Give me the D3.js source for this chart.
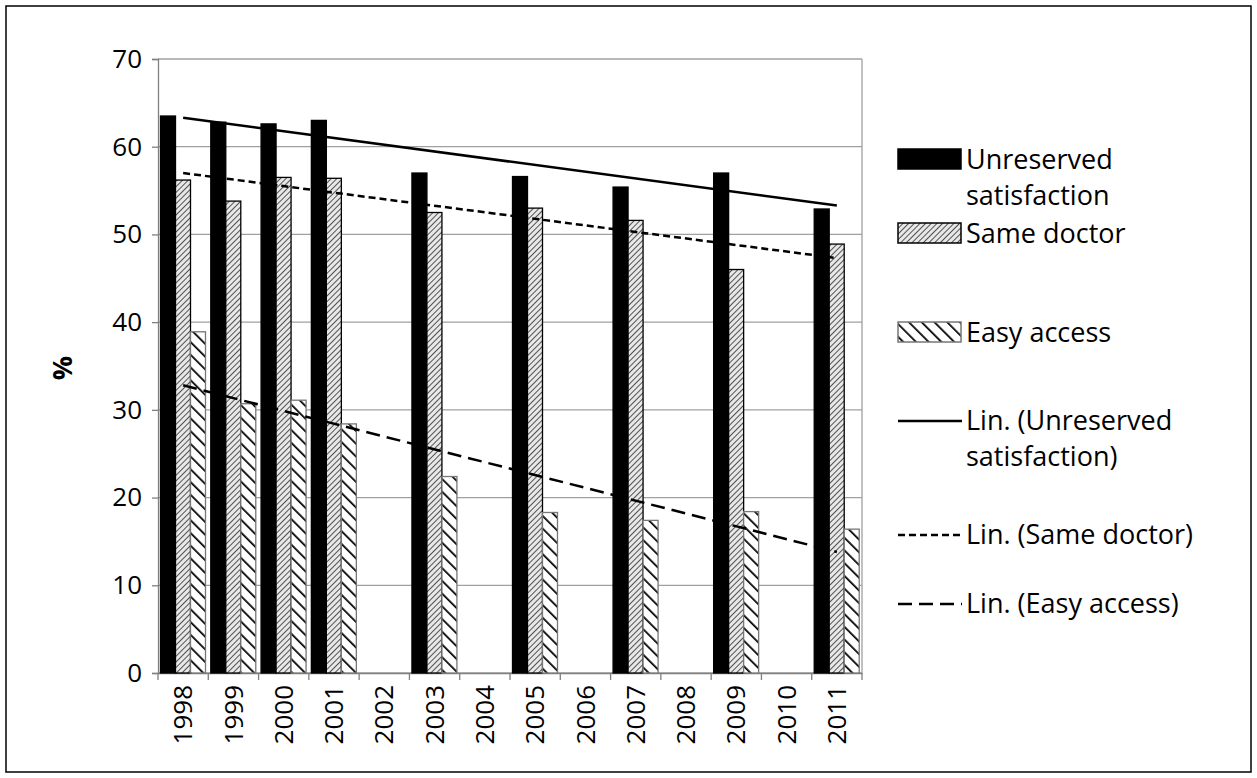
<!DOCTYPE html>
<html><head><meta charset="utf-8">
<script src="https://cdn.jsdelivr.net/npm/d3@7"></script>
<style>body{margin:0;background:#fff}text{font-family:"Open Sans",sans-serif}</style>
</head><body><svg id="c" width="1257" height="778"></svg>
<script>
// chart values
const years = ["1998","1999","2000","2001","2002","2003","2004","2005","2006","2007","2008","2009","2010","2011"];
const unreserved = [63.5, 62.8, 62.6, 63.0, null, 57.0, null, 56.6, null, 55.4, null, 57.0, null, 52.9];
const sameDoctor = [56.2, 53.8, 56.5, 56.4, null, 52.5, null, 53.0, null, 51.6, null, 46.0, null, 48.9];
const easyAccess = [38.9, 30.7, 31.1, 28.4, null, 22.4, null, 18.3, null, 17.4, null, 18.4, null, 16.4];
// trend line endpoints (1998, 2011)
const trendUnreserved = [63.3, 53.3];
const trendSame = [57.0, 47.3];
const trendEasy = [32.8, 13.8];
const yTicks = [0, 10, 20, 30, 40, 50, 60, 70];

const svg = d3.select("#c");
const defs = svg.append("defs");
function hatch(id, size, angle, sw, bg) {
    let p = defs.append("pattern").attr("id", id).attr("patternUnits", "userSpaceOnUse")
        .attr("width", size).attr("height", size).attr("patternTransform", "rotate(" + angle + ")");
    p.append("rect").attr("width", size).attr("height", size).attr("fill", bg);
    p.append("line").attr("x1", 0).attr("y1", 0).attr("x2", 0).attr("y2", size)
        .attr("stroke", "#000").attr("stroke-width", sw);
}
hatch("same", 4, 45, 1.3, "#e8e8e8");
hatch("easy", 9, -45, 3.5, "#fff");

svg.append("rect").attr("x", 6).attr("y", 6).attr("width", 1245).attr("height", 766)
    .attr("fill", "none").attr("stroke", "#000").attr("stroke-width", 1.5);

const x = d3.scaleBand().domain(years).range([158, 862]).paddingInner(0).paddingOuter(0);
const y = d3.scaleLinear().domain([0, 70]).range([673, 59]);

// gridlines
svg.append("g").selectAll("line").data(yTicks).enter().append("line")
    .attr("x1", 158).attr("x2", 862).attr("y1", d => y(d)).attr("y2", d => y(d))
    .attr("stroke", "#a0a0a0").attr("stroke-width", 1.3);
svg.append("line").attr("x1", 862).attr("x2", 862).attr("y1", 59).attr("y2", 673)
    .attr("stroke", "#a0a0a0").attr("stroke-width", 1.3);

// y axis
const yAxis = svg.append("g").attr("transform", "translate(158,0)")
    .call(d3.axisLeft(y).tickValues(yTicks).tickSize(6).tickPadding(10));
yAxis.selectAll("text").attr("font-size", 26).attr("fill", "#000");
yAxis.selectAll("line,path").attr("stroke", "#808080").attr("stroke-width", 1.3);

// x axis
const xAxis = svg.append("g").attr("transform", "translate(0,673)")
    .call(d3.axisBottom(x).tickSize(0));
xAxis.select("path").attr("stroke", "#808080").attr("stroke-width", 1.3);
xAxis.selectAll("text").attr("font-size", 26).attr("fill", "#000")
    .attr("transform", "rotate(-90)").attr("text-anchor", "end")
    .attr("dx", "-12").attr("dy", "0.35em").attr("x", 0).attr("y", 0);
svg.append("g").selectAll("line").data(d3.range(years.length + 1)).enter().append("line")
    .attr("x1", i => 158 + i * x.step()).attr("x2", i => 158 + i * x.step())
    .attr("y1", 673).attr("y2", 680).attr("stroke", "#808080").attr("stroke-width", 1.3);

svg.append("text").attr("transform", "translate(72,368) rotate(-90)")
    .attr("text-anchor", "middle").attr("font-size", 27).attr("font-weight", "bold").text("%");

// bars
const bw = 15;
const series = [
    {vals: unreserved, fill: "#000", stroke: "#000"},
    {vals: sameDoctor, fill: "url(#same)", stroke: "#000"},
    {vals: easyAccess, fill: "url(#easy)", stroke: "#777"}
];
series.forEach((s, k) => {
    svg.append("g").selectAll("rect").data(years.map((yr, i) => ({yr, v: s.vals[i]})).filter(d => d.v != null))
        .enter().append("rect")
        .attr("x", d => x(d.yr) + 2.5 + k * bw).attr("width", bw)
        .attr("y", d => y(d.v)).attr("height", d => y(0) - y(d.v))
        .attr("fill", s.fill).attr("stroke", s.stroke).attr("stroke-width", 1.3);
});

// trend lines
const cx = yr => x(yr) + x.bandwidth() / 2;
const trends = [
    {t: trendUnreserved, dash: null},
    {t: trendSame, dash: "7,4"},
    {t: trendEasy, dash: "14,7"}
];
trends.forEach(tr => {
    svg.append("line").attr("x1", cx("1998")).attr("x2", cx("2011"))
        .attr("y1", y(tr.t[0])).attr("y2", y(tr.t[1]))
        .attr("stroke", "#000").attr("stroke-width", 2.5).attr("stroke-dasharray", tr.dash);
});

// legend
const lg = svg.append("g");
const legItems = [
    {lines: ["Unreserved", "satisfaction"], y: 160, fill: "#000", stroke: "#000"},
    {lines: ["Same doctor"], y: 234, fill: "url(#same)", stroke: "#000"},
    {lines: ["Easy access"], y: 333, fill: "url(#easy)", stroke: "#777"},
    {lines: ["Lin. (Unreserved", "satisfaction)"], y: 421, dash: null},
    {lines: ["Lin. (Same doctor)"], y: 535, dash: "7,4"},
    {lines: ["Lin. (Easy access)"], y: 604, dash: "14,7"}
];
legItems.forEach(it => {
    if (it.fill) {
        lg.append("rect").attr("x", 898).attr("y", it.y - 11).attr("width", 63).attr("height", 20)
            .attr("fill", it.fill).attr("stroke", it.stroke).attr("stroke-width", 1.5);
    } else {
        lg.append("line").attr("x1", 898).attr("x2", 962).attr("y1", it.y).attr("y2", it.y)
            .attr("stroke", "#000").attr("stroke-width", 2.5).attr("stroke-dasharray", it.dash);
    }
    it.lines.forEach((l, j) => {
        lg.append("text").attr("x", 966).attr("y", it.y + j * 36).attr("dy", "0.35em")
            .attr("font-size", 27).text(l);
    });
});
</script></body></html>
